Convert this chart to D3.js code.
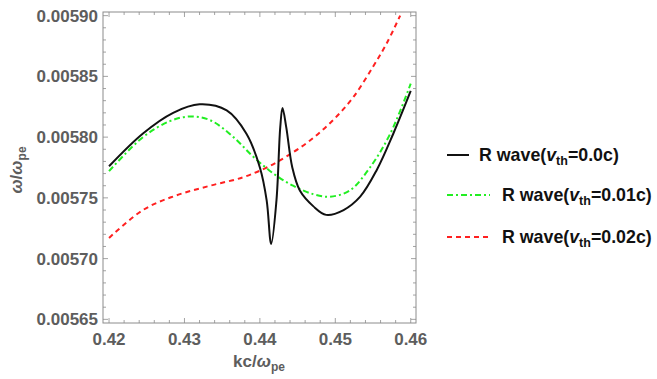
<!DOCTYPE html>
<html>
<meta charset="utf-8">
<style>
  body { margin: 0; background: #fff; }
  text { font-family: "Liberation Sans", Arial, sans-serif; font-weight: bold; }
</style>
<body>
<svg width="657" height="379"></svg>
<script src="https://d3js.org/d3.v7.min.js"></script>
<script>
// wave number kc/wpe and frequency w/wpe
const blackK = [0.4200, 0.4245, 0.4285, 0.4320, 0.4356, 0.4382, 0.4400, 0.4409, 0.4415, 0.4422, 0.4427, 0.4430, 0.4435, 0.4443, 0.4453, 0.4471, 0.4488, 0.4511, 0.4533, 0.4555, 0.4577, 0.4600];
const blackW = [0.005776, 0.005803, 0.005820, 0.005827, 0.005822, 0.005803, 0.005775, 0.005748, 0.005712, 0.005748, 0.005808, 0.005824, 0.005808, 0.005775, 0.005756, 0.005743, 0.005736, 0.005740, 0.005751, 0.005773, 0.005803, 0.005838];

const greenK = [0.4200, 0.4245, 0.4280, 0.4307, 0.4334, 0.4365, 0.4391, 0.4418, 0.4444, 0.4471, 0.4493, 0.4519, 0.4546, 0.4573, 0.4600];
const greenW = [0.005772, 0.005800, 0.005813, 0.005817, 0.005814, 0.005800, 0.005784, 0.005770, 0.005760, 0.005753, 0.005751, 0.005756, 0.005775, 0.005803, 0.005844];

const redK = [0.4200, 0.4245, 0.4289, 0.4334, 0.4378, 0.4409, 0.4435, 0.4466, 0.4497, 0.4524, 0.4550, 0.4568, 0.4586];
const redW = [0.005717, 0.005740, 0.005752, 0.005760, 0.005767, 0.005775, 0.005784, 0.005797, 0.005814, 0.005833, 0.005858, 0.005877, 0.005900];

const xTicks = [0.42, 0.43, 0.44, 0.45, 0.46];
const yTicks = [0.00565, 0.00570, 0.00575, 0.00580, 0.00585, 0.00590];
const legendVth = ["0.0c", "0.01c", "0.02c"];

const svg = d3.select("svg");
const pLeft = 103, pRight = 416, pTop = 12, pBottom = 323;

const x = d3.scaleLinear().domain([0.4192, 0.4607]).range([pLeft, pRight]);
const y = d3.scaleLinear().domain([0.005647, 0.005903]).range([pBottom, pTop]);

const frame = "#8c8c8c";
const tickCol = "#5d5d5d";

// frame
svg.append("rect")
  .attr("x", pLeft).attr("y", pTop)
  .attr("width", pRight - pLeft).attr("height", pBottom - pTop)
  .attr("fill", "none").attr("stroke", frame).attr("stroke-width", 1);

// ticks on all sides, pointing inward
const xMinor = d3.range(0.42, 0.4605, 0.002);
const yMinor = d3.range(0.00565, 0.005901, 0.00001);
const tg = svg.append("g").attr("stroke", frame).attr("stroke-width", 0.8);
xMinor.forEach((v, i) => {
  const len = i % 5 === 0 ? 5 : 3;
  tg.append("line").attr("x1", x(v)).attr("x2", x(v)).attr("y1", pBottom).attr("y2", pBottom - len);
  tg.append("line").attr("x1", x(v)).attr("x2", x(v)).attr("y1", pTop).attr("y2", pTop + len);
});
yMinor.forEach((v, i) => {
  const len = i % 5 === 0 ? 5 : 3;
  tg.append("line").attr("y1", y(v)).attr("y2", y(v)).attr("x1", pLeft).attr("x2", pLeft + len);
  tg.append("line").attr("y1", y(v)).attr("y2", y(v)).attr("x1", pRight).attr("x2", pRight - len);
});

// tick labels
svg.append("g").selectAll("text").data(xTicks).enter().append("text")
  .attr("x", d => x(d)).attr("y", 345)
  .attr("text-anchor", "middle").attr("font-size", 17).attr("fill", tickCol)
  .text(d => d.toFixed(2));
svg.append("g").selectAll("text").data(yTicks).enter().append("text")
  .attr("x", 98).attr("y", d => y(d) + 6)
  .attr("text-anchor", "end").attr("font-size", 17).attr("fill", tickCol)
  .text(d => d.toFixed(5));

// axis titles
const xl = svg.append("text").attr("x", 259).attr("y", 367)
  .attr("text-anchor", "middle").attr("font-size", 17).attr("fill", tickCol);
xl.append("tspan").text("kc/");
xl.append("tspan").attr("font-style", "italic").text("ω");
xl.append("tspan").attr("font-size", 12).attr("dy", 4).text("pe");

const yl = svg.append("text")
  .attr("transform", "translate(22,170) rotate(-90)")
  .attr("text-anchor", "middle").attr("font-size", 17).attr("fill", tickCol);
yl.append("tspan").attr("font-style", "italic").text("ω");
yl.append("tspan").text("/");
yl.append("tspan").attr("font-style", "italic").text("ω");
yl.append("tspan").attr("font-size", 12).attr("dy", 4).text("pe");

// curves
const line = d3.line().x(d => x(d[0])).y(d => y(d[1])).curve(d3.curveCatmullRom.alpha(0.5));
const series = [
  { k: redK, w: redW, color: "#ff2020", dash: "5,4", width: 2 },
  { k: greenK, w: greenW, color: "#22ee22", dash: "6,3,2,3", width: 2 },
  { k: blackK, w: blackW, color: "#111", dash: null, width: 2 }
];
series.forEach(s => {
  svg.append("path")
    .datum(s.k.map((k, i) => [k, s.w[i]]))
    .attr("d", line)
    .attr("fill", "none")
    .attr("stroke", s.color)
    .attr("stroke-width", s.width)
    .attr("stroke-dasharray", s.dash);
});

// legend
const leg = [
  { color: "#111", dash: null, x1: 447, x2: 469, tx: 479, y: 155 },
  { color: "#22ee22", dash: "6,3,2,3", x1: 447, x2: 490, tx: 502, y: 195 },
  { color: "#ff2020", dash: "5,4", x1: 447, x2: 490, tx: 502, y: 237 }
];
leg.forEach((l, i) => {
  svg.append("line").attr("x1", l.x1).attr("x2", l.x2).attr("y1", l.y).attr("y2", l.y)
    .attr("stroke", l.color).attr("stroke-width", 2).attr("stroke-dasharray", l.dash);
  const t = svg.append("text").attr("x", l.tx).attr("y", l.y + 6)
    .attr("font-size", 17.8).attr("fill", "#111");
  t.append("tspan").text("R wave(");
  t.append("tspan").attr("font-style", "italic").text("v");
  t.append("tspan").attr("font-size", 12.5).attr("dy", 4).text("th");
  t.append("tspan").attr("dy", -4).text("=" + legendVth[i] + ")");
});
</script>
</body>
</html>
